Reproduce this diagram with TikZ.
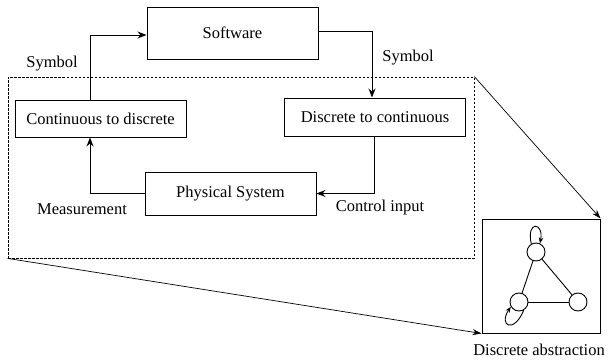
\documentclass[tikz,border=0pt]{standalone}
\usepackage{fontspec}
\setmainfont{Liberation Serif}
\usetikzlibrary{arrows.meta,positioning}
\tikzset{
	block/.style={rectangle, draw=black, line width=1pt, text centered, inner sep=2pt},
	flow/.style={-{Stealth[length=9pt,width=7pt,inset=3pt]}, line width=0.9pt},
	zoomline/.style={-{Stealth[length=9pt,width=6pt,inset=3pt]}, line width=0.7pt},
	state/.style={circle, draw=black, line width=0.9pt, minimum size=18pt, inner sep=0pt},
	selfloop/.style={-{Stealth[length=6pt,width=4.5pt,inset=2pt]}, line width=0.9pt},
}
\begin{document}
\begin{tikzpicture}[x=1pt, y=-1pt, font=\fontsize{16.5}{20}\selectfont]
	\useasboundingbox (0,0) rectangle (608,364);
	% loop blocks
	\node[block, minimum width=171pt, minimum height=52pt] (Soft) at (232.5,33) {Software};
	\node[block, minimum width=171pt, minimum height=37pt] (CtoD) at (100.5,118.5) {Continuous to discrete};
	\node[block, minimum width=181pt, minimum height=38pt] (DtoC) at (375,117) {Discrete to continuous};
	\node[block, minimum width=171pt, minimum height=43pt] (Phys) at (230.5,193.5) {Physical System};
	\node (SymL) at (52,64) {Symbol};
	\node (SymR) at (408,58) {Symbol};
	\node (Meas) at (82,209) {Measurement};
	\node (Ctrl) at (380,208) {Control input};
	\draw[flow] ([xshift=-10.5pt]CtoD.north) |- ([yshift=-2pt]Soft.west);
	\draw[flow] ([yshift=2pt]Soft.east) -| ([xshift=-3pt]DtoC.north);
	\draw[flow] ([xshift=-1pt]DtoC.south) |- (Phys.east);
	\draw[flow] (Phys.west) -| ([xshift=-10.5pt]CtoD.south);
	% zoom to the abstraction
	\node[draw, dash pattern=on 2.5pt off 1.5pt, line width=0.8pt, minimum width=466pt, minimum height=181pt, inner sep=0pt] (Zoom) at (241,167.5) {};
	\node[draw, line width=1pt, minimum width=118pt, minimum height=114pt, inner sep=0pt] (Abs) at (541,276) {};
	\node (AbsLbl) at (539,350) {Discrete abstraction};
	\draw[zoomline] (Zoom.north east) -- (Abs.north east);
	\draw[zoomline] (Zoom.south west) -- (Abs.south west);
	% graph
	\node[state] (T) at (536,252) {};
	\node[state] (L) at (519,302) {};
	\node[state] (R) at (578,302) {};
	\draw[line width=0.9pt] (T) -- (L);
	\draw[line width=0.9pt] (T) -- (R);
	\draw[line width=0.9pt] (L) -- (R);
	\draw[selfloop] (T.120) .. controls (526,220) and (544,222) .. (T.65);
	\draw[selfloop] (L.-60) .. controls (514,334) and (498,326) .. (L.-150);
\end{tikzpicture}
\end{document}
